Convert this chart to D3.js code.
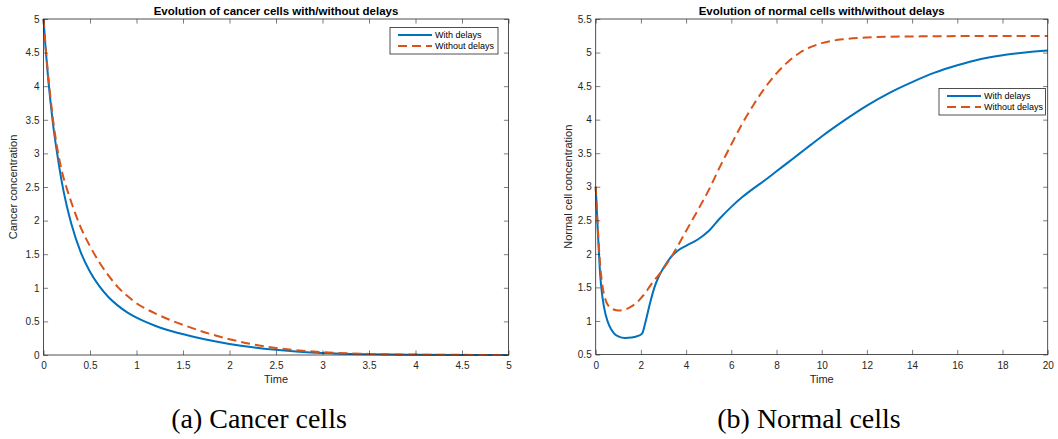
<!DOCTYPE html>
<html>
<head>
<meta charset="utf-8">
<script src="https://cdn.jsdelivr.net/npm/d3@7"></script>
<style>
  html, body { margin: 0; padding: 0; background: #ffffff; }
  svg { display: block; }
  text { font-family: "Liberation Sans", Arial, Helvetica, sans-serif; }
</style>
</head>
<body>
<svg id="fig" width="1058" height="439"></svg>
<script>
// ---- Panel (a): cancer cells ----
const cancerTime = [0, 0.025, 0.05, 0.075, 0.1, 0.15, 0.2, 0.25, 0.3, 0.4, 0.5, 0.6, 0.7, 0.8, 0.9, 1.0,
                    1.2, 1.4, 1.6, 1.8, 2.0, 2.25, 2.5, 2.75, 3.0, 3.5, 4.0, 4.5, 5.0];
const cancerWithDelays = [5.0, 4.52, 4.12, 3.77, 3.46, 2.97, 2.55, 2.22, 1.95, 1.53, 1.24, 1.025, 0.86, 0.735, 0.635, 0.555,
                          0.435, 0.345, 0.275, 0.215, 0.165, 0.115, 0.078, 0.05, 0.03, 0.011, 0.004, 0.0015, 0.0005];
const cancerWithoutDelays = [5.0, 4.55, 4.16, 3.83, 3.53, 3.06, 2.72, 2.48, 2.27, 1.9, 1.62, 1.38, 1.18, 1.01, 0.88, 0.77,
                             0.62, 0.5, 0.4, 0.31, 0.235, 0.16, 0.105, 0.068, 0.042, 0.016, 0.006, 0.002, 0.001];
const cancerTicksX = [0, 0.5, 1, 1.5, 2, 2.5, 3, 3.5, 4, 4.5, 5];
const cancerTicksY = [0, 0.5, 1, 1.5, 2, 2.5, 3, 3.5, 4, 4.5, 5];

// ---- Panel (b): normal cells ----
const normalTime = [0, 0.1, 0.2, 0.3, 0.45, 0.6, 0.8, 1, 1.3, 1.6, 1.9, 2.05, 2.2, 2.4, 2.6, 2.8, 3, 3.3, 3.6, 4,
                    4.5, 5, 5.5, 6, 6.5, 7, 7.5, 8, 8.5, 9, 9.5, 10, 11, 12, 13, 14, 15, 16, 17, 18, 19, 20];
const normalWithDelays = [3.0, 2.3, 1.68, 1.35, 1.08, 0.93, 0.82, 0.77, 0.745, 0.752, 0.78, 0.81, 0.98, 1.26, 1.5, 1.67,
                          1.79, 1.94, 2.04, 2.12, 2.21, 2.34, 2.53, 2.7, 2.85, 2.98, 3.1, 3.23, 3.36, 3.49, 3.62, 3.75,
                          3.99, 4.21, 4.4, 4.56, 4.7, 4.81, 4.9, 4.96, 5.0, 5.03];
const normalWithoutDelays = [3.0, 2.35, 1.82, 1.52, 1.3, 1.21, 1.17, 1.155, 1.17, 1.22, 1.3, 1.36, 1.42, 1.52, 1.61, 1.69,
                             1.78, 1.93, 2.1, 2.34, 2.64, 2.95, 3.3, 3.63, 3.95, 4.23, 4.48, 4.69, 4.86, 4.99, 5.08, 5.14,
                             5.2, 5.225, 5.235, 5.24, 5.243, 5.245, 5.245, 5.245, 5.245, 5.245];
const normalTicksX = [0, 2, 4, 6, 8, 10, 12, 14, 16, 18, 20];
const normalTicksY = [0.5, 1, 1.5, 2, 2.5, 3, 3.5, 4, 4.5, 5, 5.5];

const seriesNames = ["With delays", "Without delays"];

// ---- styling ----
const AXIS_COLOR = "#262626";
const BLUE = "#0072BD";
const ORANGE = "#D95319";
const TICK_LEN = 4.6;

const svg = d3.select("#fig");

const panels = [
  {
    title: "Evolution of cancer cells with/without delays",
    ylabel: "Cancer concentration",
    caption: "(a) Cancer cells",
    t: cancerTime, withD: cancerWithDelays, withoutD: cancerWithoutDelays,
    xDomain: [0, 5], yDomain: [0, 5], xTicks: cancerTicksX, yTicks: cancerTicksY,
    left: 43.5, right: 508.5, top: 19, bottom: 355,
    ylabelX: 13.5, captionX: 259,
    legend: { x: 390, y: 27.5, w: 108, h: 26.5 }
  },
  {
    title: "Evolution of normal cells with/without delays",
    ylabel: "Normal cell concentration",
    caption: "(b) Normal cells",
    t: normalTime, withD: normalWithDelays, withoutD: normalWithoutDelays,
    xDomain: [0, 20], yDomain: [0.5, 5.5], xTicks: normalTicksX, yTicks: normalTicksY,
    left: 595.7, right: 1047.7, top: 19, bottom: 354.5,
    ylabelX: 568, captionX: 809,
    legend: { x: 939, y: 88.5, w: 106.5, h: 26.5 }
  }
];

const fmt = d => String(+d.toFixed(2));

panels.forEach(p => {
  const x = d3.scaleLinear().domain(p.xDomain).range([p.left, p.right]);
  const y = d3.scaleLinear().domain(p.yDomain).range([p.bottom, p.top]);
  const g = svg.append("g");

  // white plot area
  g.append("rect")
    .attr("x", p.left).attr("y", p.top)
    .attr("width", p.right - p.left).attr("height", p.bottom - p.top)
    .attr("fill", "#fff");

  // curves
  const line = (vals) => d3.line()
    .x((d, i) => x(p.t[i]))
    .y(d => y(d))
    .curve(d3.curveMonotoneX)(vals);

  g.append("path")
    .attr("d", line(p.withD))
    .attr("fill", "none").attr("stroke", BLUE)
    .attr("stroke-width", 2).attr("stroke-linejoin", "round");

  g.append("path")
    .attr("d", line(p.withoutD))
    .attr("fill", "none").attr("stroke", ORANGE)
    .attr("stroke-width", 2).attr("stroke-dasharray", "9,5");

  // axes: inward ticks on all four sides
  const styleAxis = sel => {
    sel.select(".domain").remove();
    sel.selectAll(".tick line").attr("stroke", AXIS_COLOR).attr("stroke-width", 0.6);
    sel.selectAll(".tick text").attr("fill", AXIS_COLOR)
      .style("font-size", "10px").style("font-family", "'Liberation Sans', Arial, sans-serif");
  };

  g.append("g").attr("transform", `translate(0,${p.bottom})`)
    .call(d3.axisBottom(x).tickValues(p.xTicks).tickFormat(fmt)
      .tickSizeInner(-TICK_LEN).tickSizeOuter(0).tickPadding(7))
    .call(styleAxis);

  g.append("g").attr("transform", `translate(0,${p.top})`)
    .call(d3.axisTop(x).tickValues(p.xTicks).tickFormat("")
      .tickSizeInner(-TICK_LEN).tickSizeOuter(0))
    .call(styleAxis);

  g.append("g").attr("transform", `translate(${p.left},0)`)
    .call(d3.axisLeft(y).tickValues(p.yTicks).tickFormat(fmt)
      .tickSizeInner(-TICK_LEN).tickSizeOuter(0).tickPadding(4))
    .call(styleAxis);

  g.append("g").attr("transform", `translate(${p.right},0)`)
    .call(d3.axisRight(y).tickValues(p.yTicks).tickFormat("")
      .tickSizeInner(-TICK_LEN).tickSizeOuter(0))
    .call(styleAxis);

  // box
  g.append("rect")
    .attr("x", p.left).attr("y", p.top)
    .attr("width", p.right - p.left).attr("height", p.bottom - p.top)
    .attr("fill", "none").attr("stroke", AXIS_COLOR).attr("stroke-width", 0.8);

  // title
  g.append("text")
    .attr("x", (p.left + p.right) / 2).attr("y", 14.5)
    .attr("text-anchor", "middle")
    .attr("font-size", 11.5).attr("font-weight", "bold").attr("fill", "#000")
    .text(p.title);

  // x label
  g.append("text")
    .attr("x", (p.left + p.right) / 2).attr("y", 383)
    .attr("text-anchor", "middle")
    .attr("font-size", 11).attr("fill", AXIS_COLOR)
    .text("Time");

  // y label
  g.append("text")
    .attr("transform", `translate(${p.ylabelX},${(p.top + p.bottom) / 2}) rotate(-90)`)
    .attr("text-anchor", "middle").attr("dy", "0.35em")
    .attr("font-size", 11).attr("fill", AXIS_COLOR)
    .text(p.ylabel);

  // legend
  const L = p.legend;
  const lg = g.append("g").attr("transform", `translate(${L.x},${L.y})`);
  lg.append("rect").attr("width", L.w).attr("height", L.h)
    .attr("fill", "#fff").attr("stroke", AXIS_COLOR).attr("stroke-width", 0.8);
  seriesNames.forEach((name, i) => {
    const yy = 7.5 + i * 11;
    lg.append("line")
      .attr("x1", 8).attr("x2", 42).attr("y1", yy).attr("y2", yy)
      .attr("stroke", i === 0 ? BLUE : ORANGE).attr("stroke-width", 2)
      .attr("stroke-dasharray", i === 0 ? null : "9,5");
    lg.append("text")
      .attr("x", 45).attr("y", yy).attr("dy", "0.35em")
      .attr("font-size", 9).attr("fill", "#000")
      .text(name);
  });

  // sub-figure caption
  svg.append("text")
    .attr("x", p.captionX).attr("y", 428)
    .attr("text-anchor", "middle")
    .style("font-family", "'Liberation Serif', 'Times New Roman', serif")
    .attr("font-size", 28).attr("fill", "#000")
    .text(p.caption);
});
</script>
</body>
</html>
